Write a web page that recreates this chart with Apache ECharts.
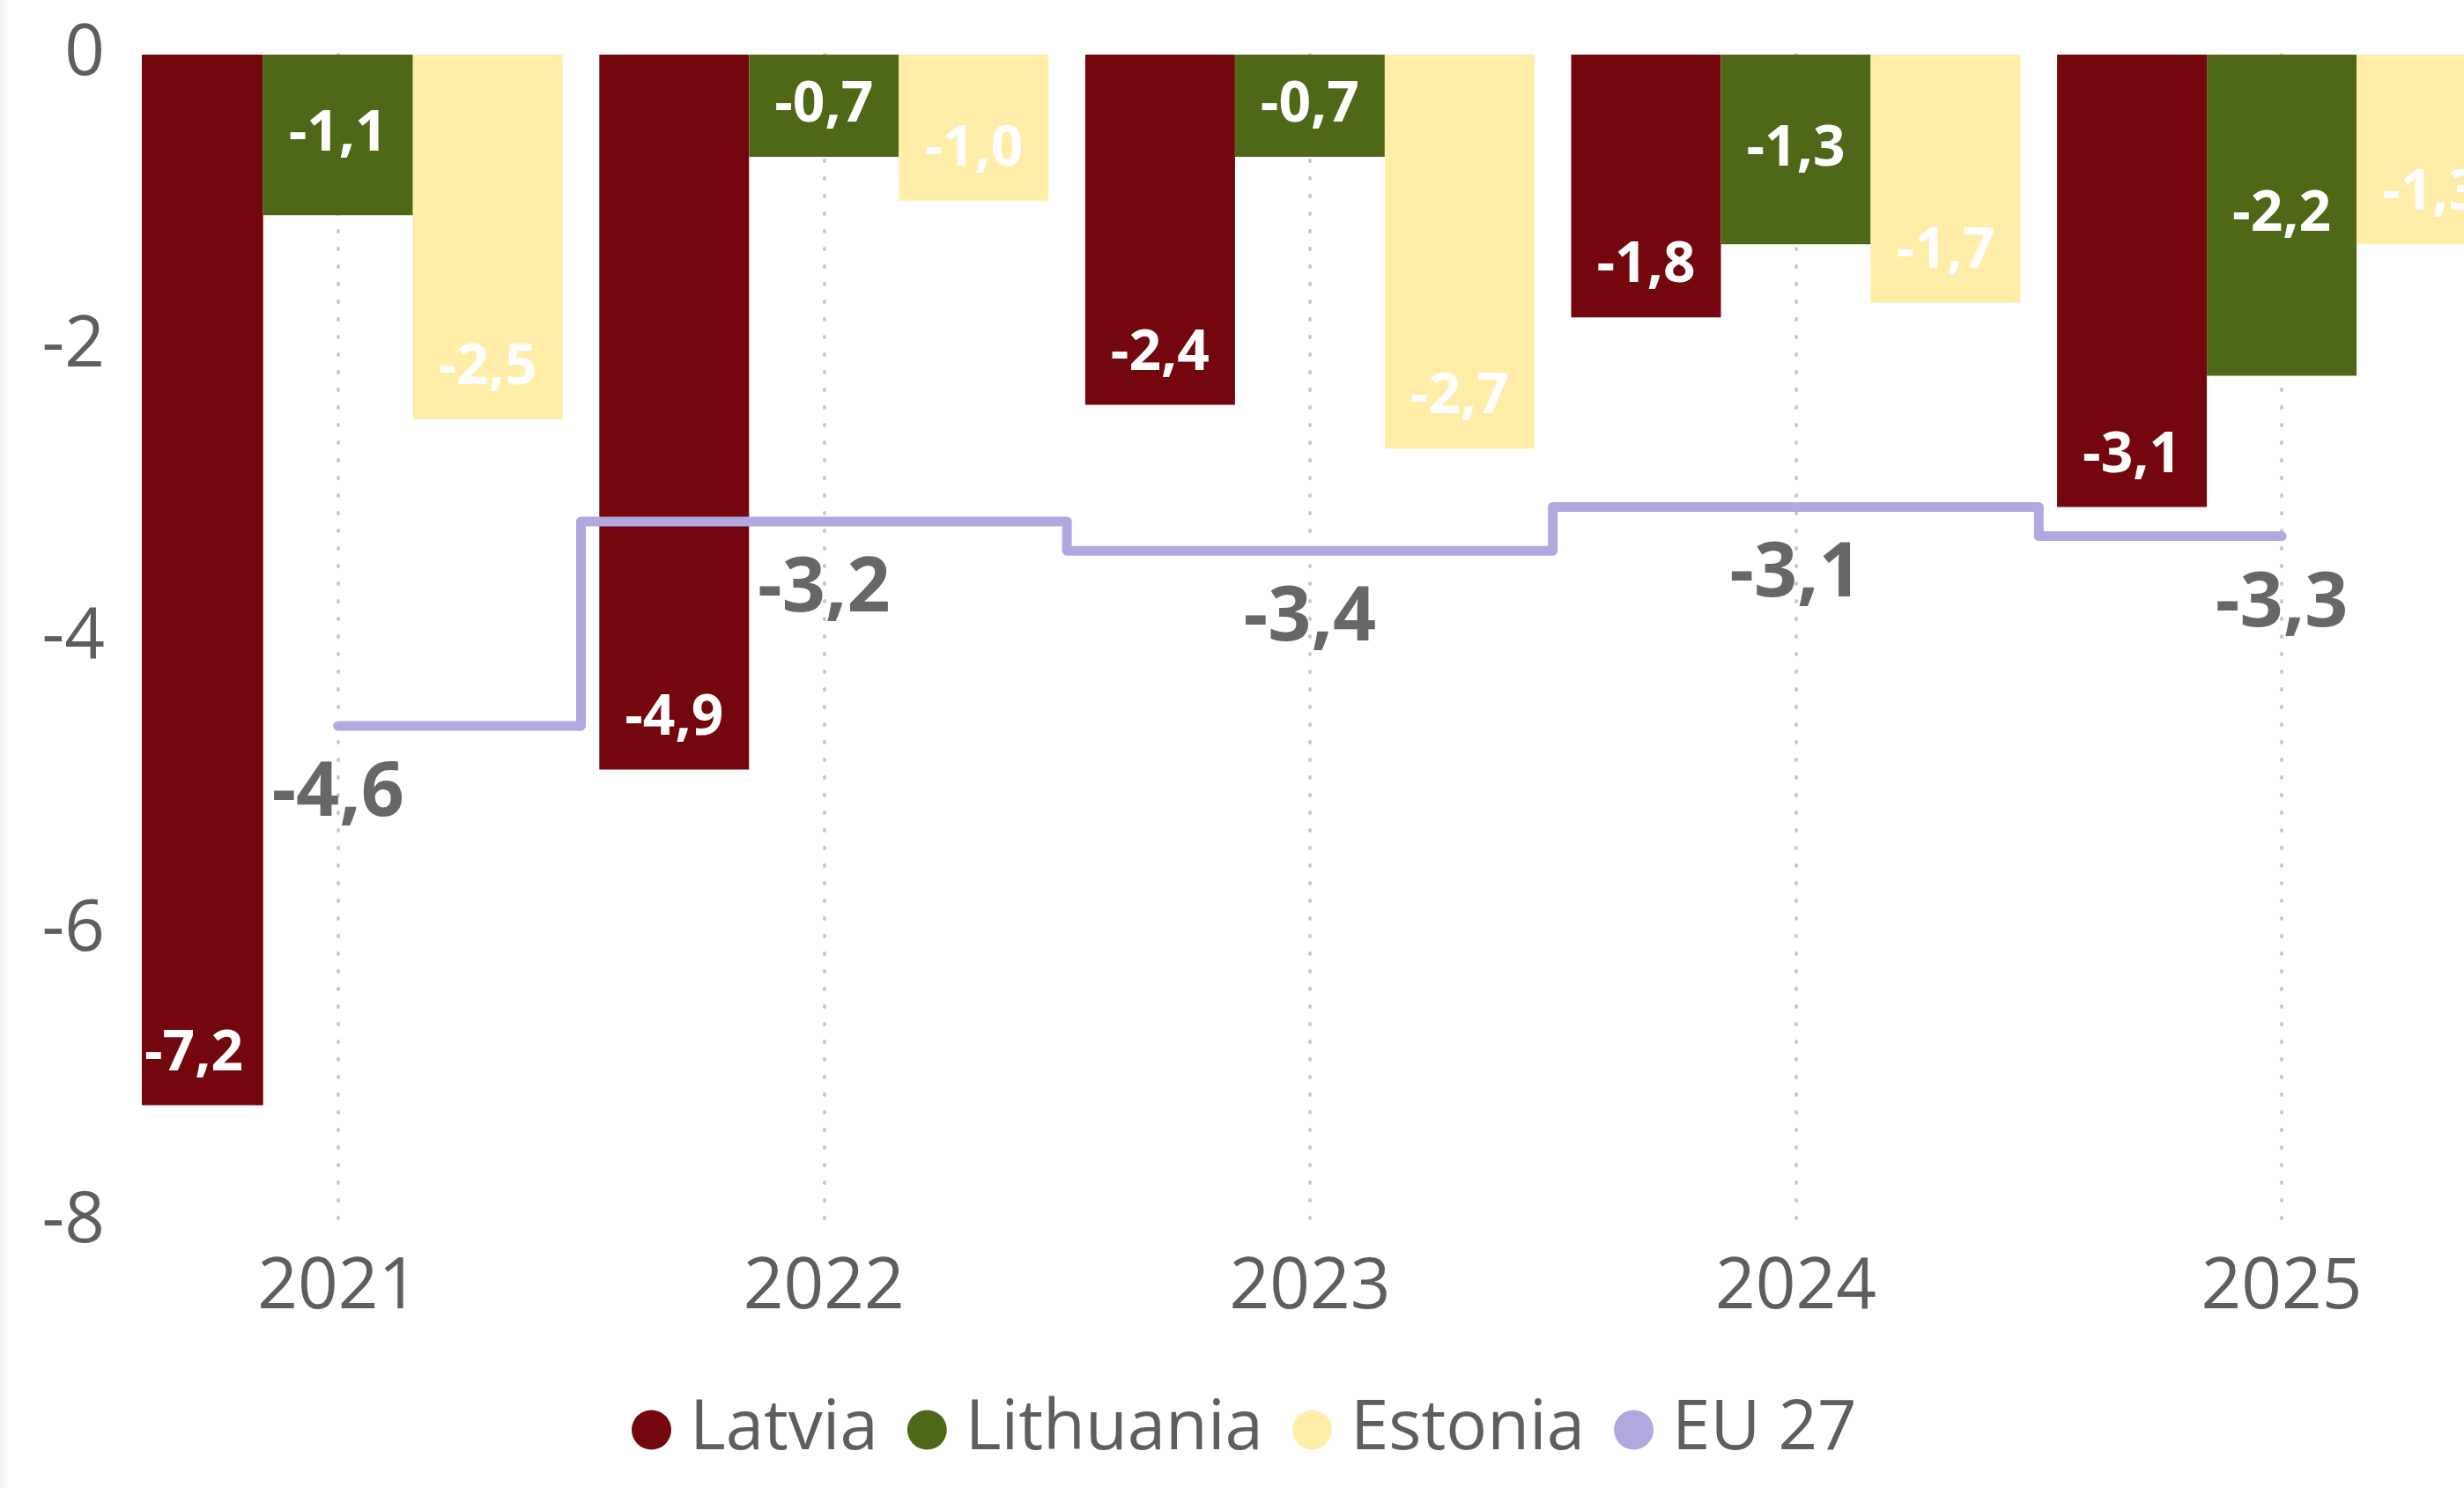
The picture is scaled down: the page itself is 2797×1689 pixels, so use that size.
<!DOCTYPE html>
<html>
<head>
<meta charset="utf-8">
<script src="https://cdn.jsdelivr.net/npm/echarts@6/dist/echarts.min.js"></script>
<style>
  html, body { margin: 0; padding: 0; background: #ffffff; }
  #chart { width: 2797px; height: 1689px; }
</style>
</head>
<body>
<div id="chart"></div>
<script>
// ---- data ----
const categories = ['2021', '2022', '2023', '2024', '2025'];
const latvia    = [-7.2, -4.9, -2.4, -1.8, -3.1];
const lithuania = [-1.1, -0.7, -0.7, -1.3, -2.2];
const estonia   = [-2.5, -1.0, -2.7, -1.7, -1.3];
const eu27      = [-4.6, -3.2, -3.4, -3.1, -3.3];
const yTicks    = [0, -2, -4, -6, -8];

const FONT = '"Segoe UI", "Open Sans", "Noto Sans", sans-serif';
const fmt = v => v.toFixed(1).replace('.', ',');
const idx = categories.map((c, i) => i);
const pairs = arr => arr.map((v, i) => [i, v]);

const GRID = { left: 161, right: 0, top: 62, bottom: 302 };

const chart = echarts.init(document.getElementById('chart'), null, { renderer: 'canvas' });

const barLabel = (pos, dist) => ({
  show: true,
  position: pos,
  distance: dist,
  formatter: p => fmt(p.value[1]),
  color: '#ffffff',
  fontFamily: FONT,
  fontWeight: 'bold',
  fontSize: 64
});

// keep labels of bars that overflow the plot's left edge inside the visible area
const keepInside = p => {
  const over = GRID.left + 3 - p.labelRect.x;
  return over > 0 ? { dx: over } : {};
};

const option = {
  animation: false,
  backgroundColor: '#ffffff',
  graphic: [
    {
      type: 'rect',
      silent: true,
      z: 100,
      shape: { x: 0, y: 0, width: 10, height: 1689 },
      style: {
        fill: new echarts.graphic.LinearGradient(0, 0, 1, 0, [
          { offset: 0, color: 'rgba(0,0,0,0.05)' },
          { offset: 1, color: 'rgba(0,0,0,0)' }
        ])
      }
    },
    {
      // plot-area clip on the left edge (bars overflowing the scrolled plot)
      type: 'rect',
      silent: true,
      z: 100,
      shape: { x: 121, y: GRID.top - 2, width: GRID.left - 121, height: 1689 - GRID.bottom - GRID.top + 4 },
      style: { fill: '#ffffff' }
    }
  ],
  grid: Object.assign({ containLabel: false }, GRID),
  legend: {
    data: ['Latvia', 'Lithuania', 'Estonia', 'EU 27'],
    left: 712,
    top: 1579,
    icon: 'circle',
    itemWidth: 45,
    itemHeight: 45,
    itemGap: 33,
    textStyle: { fontFamily: FONT, fontSize: 78, color: '#605E5C', padding: [0, 0, 0, 16] }
  },
  xAxis: {
    type: 'value',
    min: -0.4037,
    max: 4.3751,
    axisLine: { show: false },
    axisTick: { show: false, customValues: idx },
    axisLabel: {
      customValues: idx,
      formatter: v => categories[Math.round(v)],
      fontFamily: FONT, fontSize: 80, color: '#605E5C', margin: 35
    },
    splitLine: {
      show: true,
      lineStyle: { color: '#C8C8C8', width: 4, type: [1, 19], cap: 'round' }
    }
  },
  yAxis: {
    type: 'value',
    min: yTicks[yTicks.length - 1],
    max: yTicks[0],
    interval: 2,
    axisLine: { show: false },
    axisTick: { show: false },
    splitLine: { show: false },
    axisLabel: { fontFamily: FONT, fontSize: 80, color: '#605E5C', margin: 42 }
  },
  series: [
    {
      name: 'Latvia', type: 'bar', data: pairs(latvia),
      barWidth: 170, barGap: '0%', clip: true,
      itemStyle: { color: '#74070E' },
      label: barLabel('insideBottom', 26),
      labelLayout: keepInside
    },
    {
      name: 'Lithuania', type: 'bar', data: pairs(lithuania),
      barWidth: 170, barGap: '0%', clip: true,
      itemStyle: { color: '#4F6817' },
      label: barLabel('inside', 0)
    },
    {
      name: 'Estonia', type: 'bar', data: pairs(estonia),
      barWidth: 170, barGap: '0%', clip: true,
      itemStyle: { color: '#FFEDA8' },
      label: barLabel('insideBottom', 26)
    },
    {
      name: 'EU 27', type: 'line', data: pairs(eu27),
      step: 'middle',
      symbol: 'circle', symbolSize: 1, showSymbol: true,
      itemStyle: { color: '#B0A8DE' },
      lineStyle: { color: '#B0A8DE', width: 11, join: 'round', cap: 'round' },
      label: {
        show: true, position: 'bottom', distance: 34,
        formatter: p => fmt(p.value[1]),
        color: '#676767', fontFamily: FONT, fontWeight: 'bold', fontSize: 86
      },
      z: 5
    }
  ]
};

chart.setOption(option);
</script>
</body>
</html>
